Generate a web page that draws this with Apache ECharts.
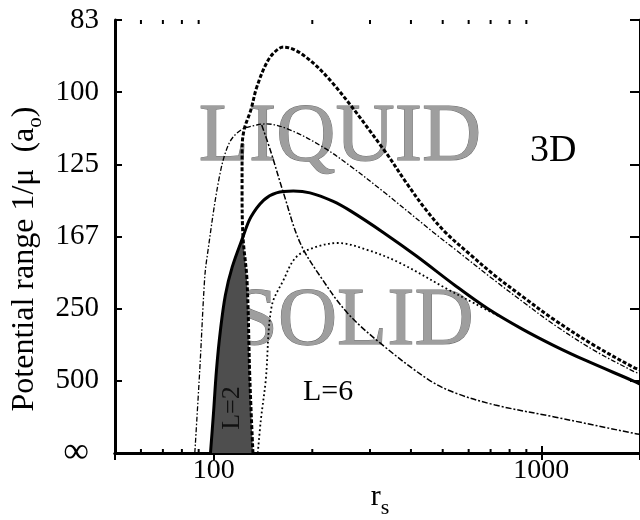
<!DOCTYPE html>
<html><head><meta charset="utf-8">
<script src="https://cdn.jsdelivr.net/npm/echarts@6/dist/echarts.min.js"></script>
<style>html,body{margin:0;padding:0;background:#fff}#chart{width:640px;height:520px}</style>
</head><body><div id="chart"></div>
<script>
// x: r_s (log axis), y: mu in units of 1e-3 / a0  (label shows 1/mu)
const xTickValues = [100, 1000];
const xMinorTicks = [60, 70, 80, 90, 200, 300, 400, 500, 600, 700, 800, 900];
const yTickLabels = ['∞', '500', '250', '167', '125', '100', '83'];

const curveSolid = [[97.8,0],[99.9,1.11],[102.0,2.30],[104.9,3.41],[108.6,4.38],[113.9,5.15],[122.9,5.99],
  [129.9,6.54],[142.2,7.01],[155.5,7.21],[175.0,7.26],[196.8,7.21],[230.8,6.98],[261.5,6.71],[330.9,6.10],
  [415.7,5.46],[548,4.63],[689,3.99],[872,3.44],[1096,2.97],[1377,2.55],[1905,2.00],[2000,1.91]];
const curveDashed = [[131.8,0],[129.0,2.02],[126.4,4.79],[122.9,5.99],[122.1,7.29],[122.1,8.40],[123.8,8.95],
  [129.9,9.51],[135.4,10.14],[145.1,10.81],[153.4,11.11],[163.3,11.25],[187.6,11.03],[230.8,10.25],[330.9,8.40],
  [387.8,7.48],[445.4,6.73],[511.5,6.10],[608.5,5.49],[723,4.91],[872,4.35],[1096,3.69],[1445,2.99],
  [1905,2.38],[2000,2.30]];
const curveDashDotOuter = [[87.6,0],[90.7,2.30],[93.8,4.79],[95.2,5.35],[104.1,7.65],[111.6,8.59],[121.2,8.95],
  [135.4,9.09],[145.1,9.12],[171.4,8.95],[215.4,8.48],[261.5,7.95],[330.9,7.23],[467.6,6.12],[548,5.63],
  [723,4.77],[872,4.21],[1096,3.55],[1445,2.85],[1905,2.27],[2000,2.19]];
const curveDashDotSteep = [[140.2,9.09],[149.2,8.37],[163.3,7.21],[183.7,5.82],[215.4,4.79],[256,3.88],
  [321.9,3.05],[454.7,2.02],[548,1.66],[723,1.33],[1096,1.00],[1905,0.55],[2000,0.52]];
const curveDotted = [[136.4,0],[139.3,0.91],[144.2,2.02],[150.2,4.05],[163.3,4.79],[178.6,5.43],[205.2,5.71],
  [239,5.82],[294,5.63],[369.6,5.27],[522,4.52],[630,4.13],[738,3.80]];
// L=2 region: solid curve up to crossing, then dashed curve back down
const regionL2 = curveSolid.slice(0, 7).concat(curveDashed.slice(0, 3).reverse());

const FONT = '"Liberation Serif", "Times New Roman", serif';
const chart = echarts.init(document.getElementById('chart'), null, {renderer: 'canvas'});

function line(data, width, type, z) {
  return {type: 'line', data: data, showSymbol: false, smooth: 0.35, clip: true, silent: true,
    lineStyle: {color: '#000', width: width, type: type, cap: 'butt'}, z: z || 3};
}

const option = {
  animation: false,
  backgroundColor: '#fff',
  grid: {left: 115, top: 20, width: 532, height: 433},
  xAxis: [{
    type: 'log', logBase: 10, min: 50, max: 2000,
    axisLine: {show: true, lineStyle: {color: '#000', width: 3}},
    axisTick: {show: true, inside: true, length: 7, lineStyle: {color: '#000', width: 2}},
    splitLine: {show: false},
    axisLabel: {show: true, color: '#000', fontFamily: FONT, fontSize: 28, margin: 4,
      showMinLabel: false, showMaxLabel: false,
      formatter: v => xTickValues.indexOf(Math.round(v)) >= 0 ? String(Math.round(v)) : ''}
  }, {
    type: 'log', logBase: 10, min: 50, max: 2000, position: 'top',
    axisLine: {show: true, lineStyle: {color: '#000', width: 3}},
    axisTick: {show: true, inside: true, length: 7, lineStyle: {color: '#000', width: 2}},
    splitLine: {show: false}, axisLabel: {show: false}
  }],
  yAxis: [{
    type: 'value', min: 0, max: 12, interval: 2,
    axisLine: {show: true, onZero: false, lineStyle: {color: '#000', width: 3}},
    axisTick: {show: true, inside: true, length: 7, lineStyle: {color: '#000', width: 2}},
    splitLine: {show: false},
    axisLabel: {color: '#000', fontFamily: FONT, fontSize: 29, margin: 16,
      formatter: (v, i) => i === 0 ? '{inf|' + yTickLabels[i] + '}' : yTickLabels[i],
      rich: {inf: {fontFamily: FONT, fontSize: 36, color: '#000', padding: [0, 10, 0, 0]}}}
  }, {
    type: 'value', min: 0, max: 12, interval: 2, position: 'right',
    axisLine: {show: true, onZero: false, lineStyle: {color: '#000', width: 3}},
    axisTick: {show: true, inside: true, length: 10, lineStyle: {color: '#000', width: 2}},
    splitLine: {show: false}, axisLabel: {show: false}
  }],
  graphic: [
    {type: 'text', x: 340, y: 138, z: 0, style: {text: 'LIQUID', font: '82px ' + FONT, fill: '#9e9e9e',
      stroke: '#707070', lineWidth: 1, align: 'center', verticalAlign: 'middle', textAlign: 'center', textVerticalAlign: 'middle'}},
    {type: 'text', x: 353, y: 322, z: 0, style: {text: 'SOLID', font: '82px ' + FONT, fill: '#9e9e9e',
      stroke: '#707070', lineWidth: 1, align: 'center', verticalAlign: 'middle', textAlign: 'center', textVerticalAlign: 'middle'}},
    {type: 'text', x: 530, y: 151, z: 10, style: {text: '3D', font: '38px ' + FONT, fill: '#000',
      align: 'left', verticalAlign: 'middle', textAlign: 'left', textVerticalAlign: 'middle'}},
    {type: 'text', x: 303, y: 392, z: 10, style: {text: 'L=6', font: '30px ' + FONT, fill: '#000',
      align: 'left', verticalAlign: 'middle', textAlign: 'left', textVerticalAlign: 'middle'}},
    {type: 'text', x: 232, y: 408, rotation: Math.PI / 2, z: 100, style: {text: 'L=2', font: '26px ' + FONT, fill: '#111',
      align: 'center', verticalAlign: 'middle', textAlign: 'center', textVerticalAlign: 'middle'}},
    {type: 'text', x: 25, y: 259, rotation: Math.PI / 2, z: 10, style: {
      text: '{m|Potential range 1/μ  (a}{s|o}{m|)}', align: 'center', verticalAlign: 'middle',
      textAlign: 'center', textVerticalAlign: 'middle', fill: '#000',
      rich: {m: {fontFamily: FONT, fontSize: 32, lineHeight: 42, fill: '#000', color: '#000'},
             s: {fontFamily: FONT, fontSize: 21, verticalAlign: 'bottom', fill: '#000', color: '#000'}}}},
    {type: 'text', x: 380, y: 497, z: 10, style: {
      text: '{r|r}{s|s}', align: 'center', verticalAlign: 'middle', textAlign: 'center', textVerticalAlign: 'middle', fill: '#000',
      rich: {r: {fontFamily: FONT, fontSize: 30, lineHeight: 44, fill: '#000', color: '#000'},
             s: {fontFamily: FONT, fontSize: 22, verticalAlign: 'bottom', fill: '#000', color: '#000'}}}}
  ],
  series: [
    {type: 'custom', silent: true, z: 1, clip: true, data: [[100, 1]],
      renderItem: (params, api) => ({type: 'polygon',
        shape: {points: regionL2.map(p => api.coord(p))}, style: {fill: '#4e4e4e'}})},
    line(curveDashDotOuter, 1.3, [5, 2, 1.5, 2]),
    line(curveDashDotSteep, 1.5, [6, 2, 2, 2]),
    line(curveDotted, 1.8, [1.8, 2.6]),
    line(curveDashed, 3, [4, 2]),
    line(curveSolid, 3, 'solid', 4),
    {type: 'custom', silent: true, z: 5, clip: false, data: xMinorTicks.map(v => [v, 0]),
      renderItem: (params, api) => {
        const v = api.value(0);
        const b = api.coord([v, 0]);
        const t = api.coord([v, 12]);
        return {type: 'group', children: [
          {type: 'line', shape: {x1: b[0], y1: b[1], x2: b[0], y2: b[1] - 4}, style: {stroke: '#000', lineWidth: 2}},
          {type: 'line', shape: {x1: t[0], y1: t[1], x2: t[0], y2: t[1] + 4}, style: {stroke: '#000', lineWidth: 2}}
        ]};
      }}
  ]
};
chart.setOption(option);
</script></body></html>
